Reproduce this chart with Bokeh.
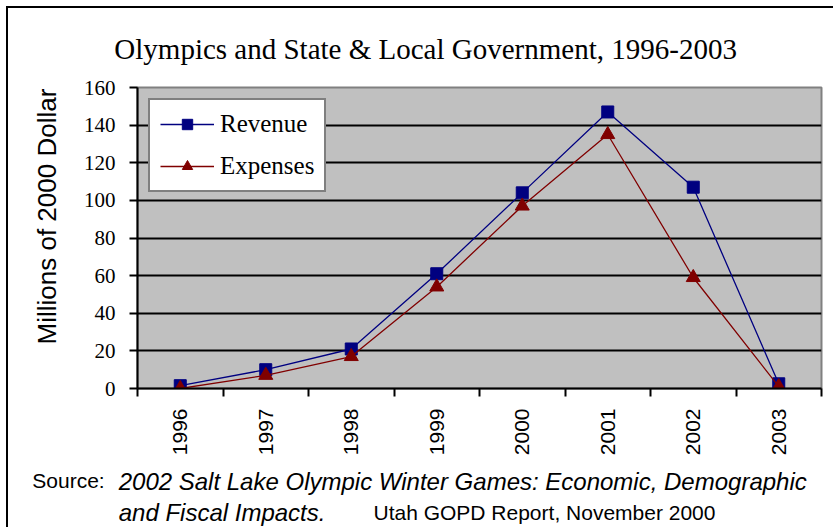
from math import pi
from bokeh.plotting import figure
from bokeh.models import FixedTicker, Range1d, Label
from bokeh.embed import file_html
from bokeh.resources import INLINE

years = [1996, 1997, 1998, 1999, 2000, 2001, 2002, 2003]
revenue = [1.5, 10, 21, 61, 104, 147, 107, 2.5]
expenses = [0, 7, 17, 54, 97, 135, 59, 1]
y_ticks = [0, 20, 40, 60, 80, 100, 120, 140, 160]
year_bounds = [y - 0.5 for y in years] + [years[-1] + 0.5]

title_text = "Olympics and State & Local Government, 1996-2003"
y_label_text = "Millions of 2000 Dollar"
src_1a = "Source:"
src_italic = "2002 Salt Lake Olympic Winter Games: Economic, Demographic\nand Fiscal Impacts."
src_2b = "Utah GOPD Report, November 2000"

W, H = 827, 521
p = figure(width=W, height=H, output_backend="svg", toolbar_location=None,
           title=None,
           x_range=Range1d(year_bounds[0], year_bounds[-1]),
           y_range=Range1d(y_ticks[0], y_ticks[-1]),
           min_border_left=129, min_border_right=14,
           min_border_top=79, min_border_bottom=141)
p.styles = {"border-left": "2px solid black", "border-top": "2px solid black",
            "margin-left": "6px", "margin-top": "6px"}

p.background_fill_color = "#C0C0C0"
p.border_fill_color = "white"
p.outline_line_color = "#808080"
p.outline_line_width = 2

p.xgrid.visible = False
p.ygrid.ticker = FixedTicker(ticks=y_ticks[1:-1])
p.ygrid.grid_line_color = "black"
p.ygrid.grid_line_width = 2

ya = p.yaxis[0]
ya.ticker = FixedTicker(ticks=y_ticks)
ya.axis_line_color = "black"
ya.axis_line_width = 2
ya.major_tick_out = 8
ya.major_tick_in = 0
ya.major_tick_line_width = 2
ya.minor_tick_line_color = None
ya.major_label_text_font = "Liberation Serif"
ya.major_label_text_font_size = "21px"
ya.major_label_text_color = "black"
ya.major_label_standoff = 14

xa = p.xaxis[0]
xa.ticker = FixedTicker(ticks=years, minor_ticks=year_bounds)
xa.axis_line_color = "black"
xa.axis_line_width = 2
xa.major_tick_out = 0
xa.major_tick_in = 0
xa.minor_tick_out = 8
xa.minor_tick_in = 0
xa.minor_tick_line_color = "black"
xa.minor_tick_line_width = 2
xa.major_label_orientation = pi / 2
xa.major_label_text_font = "Liberation Sans"
xa.major_label_text_font_size = "21px"
xa.major_label_text_color = "black"
xa.major_label_standoff = 12
xa.major_label_overrides = {y: str(y) for y in years}

p.line(years, revenue, line_color="#000080", line_width=1.3, legend_label="Revenue")
p.scatter(years, revenue, marker="square", size=12, fill_color="#000080",
          line_color="#000080", legend_label="Revenue")
p.line(years, expenses, line_color="#800000", line_width=1.3, legend_label="Expenses")
p.scatter(years, expenses, marker="triangle", size=14, fill_color="#800000",
          line_color="#800000", legend_label="Expenses")

lg = p.legend[0]
lg.location = "top_left"
lg.margin = 11
lg.padding = 10
lg.spacing = 14
lg.glyph_width = 54
lg.glyph_height = 26
lg.label_height = 26
lg.label_standoff = 6
lg.label_text_font = "Liberation Serif"
lg.label_text_font_size = "25px"
lg.label_text_color = "black"
lg.border_line_color = "black"
lg.border_line_width = 2
lg.background_fill_color = "white"
lg.background_fill_alpha = 1.0

# Text annotations live in the side panels (so they are not clipped to the
# plot frame); they are anchored with the plot's own data scales.
def add_label(side, txt, x, y, font, size, style="normal", align="left",
              baseline="top", angle=0.0, line_height=1.2):
    p.add_layout(Label(x=x, y=y, text=txt,
                       text_font=font, text_font_size=size, text_font_style=style,
                       text_align=align, text_baseline=baseline, angle=angle,
                       text_line_height=line_height, text_color="black"), side)

add_label("above", title_text, 1998.87, 189.2, "Liberation Serif", "29px",
          align="center")
add_label("left", y_label_text, 1994.44, 91.4, "Liberation Sans", "26px",
          align="center", baseline="alphabetic", angle=pi / 2)
add_label("above", src_1a, 1994.27, -43.0, "Liberation Sans", "21px")
add_label("above", src_2b, 1998.26, -59.7, "Liberation Sans", "21px")
add_label("below", src_italic, 1995.28, -42.0, "Liberation Sans", "24px",
          style="italic", line_height=1.16)

open("out.html", "w").write(file_html(p, INLINE))
